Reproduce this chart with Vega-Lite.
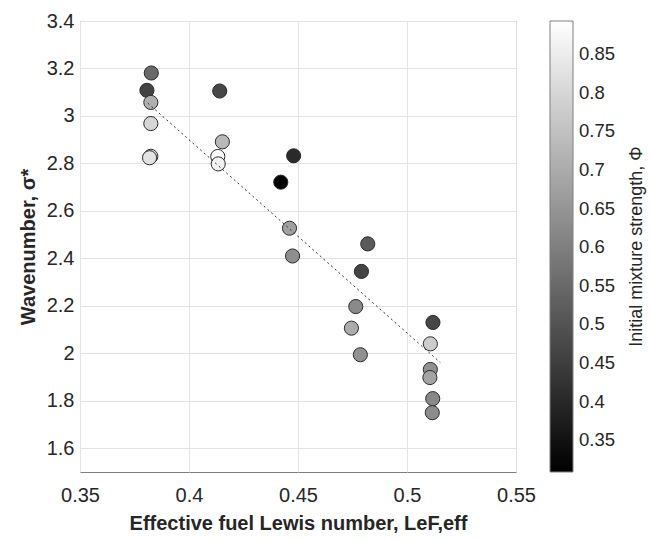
{
  "$schema": "https://vega.github.io/schema/vega-lite/v6.json",
  "autosize": {"type": "none"},
  "padding": {"left": 80, "top": 21, "right": 135, "bottom": 68},
  "width": 436,
  "height": 451,
  "background": "white",
  "config": {
    "font": "Liberation Sans",
    "view": {"stroke": "#7f7f7f", "strokeWidth": 1},
    "axis": {
      "domain": false,
      "ticks": false,
      "gridColor": "#e3e3e3",
      "gridWidth": 1,
      "labelFontSize": 20,
      "labelColor": "#262626",
      "labelFlush": false,
      "labelOverlap": false,
      "titleFontSize": 20,
      "titleFontWeight": "bold",
      "titleColor": "#262626"
    }
  },
  "title": {
    "text": "Initial mixture strength, Φ",
    "orient": "right",
    "angle": -90,
    "anchor": "middle",
    "frame": "group",
    "fontSize": 18,
    "fontWeight": "normal",
    "color": "#262626",
    "offset": -6
  },
  "datasets": {
    "pts": [
      {"le": 0.3827, "sigma": 3.181, "phi": 0.55},
      {"le": 0.3807, "sigma": 3.108, "phi": 0.46},
      {"le": 0.3825, "sigma": 3.057, "phi": 0.71},
      {"le": 0.3825, "sigma": 2.968, "phi": 0.80},
      {"le": 0.3825, "sigma": 2.830, "phi": 0.815},
      {"le": 0.3819, "sigma": 2.824, "phi": 0.83},
      {"le": 0.4141, "sigma": 3.105, "phi": 0.47},
      {"le": 0.4153, "sigma": 2.891, "phi": 0.73},
      {"le": 0.4132, "sigma": 2.829, "phi": 0.89},
      {"le": 0.4134, "sigma": 2.798, "phi": 0.86},
      {"le": 0.4480, "sigma": 2.832, "phi": 0.405},
      {"le": 0.4421, "sigma": 2.721, "phi": 0.31},
      {"le": 0.4461, "sigma": 2.527, "phi": 0.675},
      {"le": 0.4475, "sigma": 2.410, "phi": 0.635},
      {"le": 0.4820, "sigma": 2.461, "phi": 0.515},
      {"le": 0.4791, "sigma": 2.345, "phi": 0.465},
      {"le": 0.4765, "sigma": 2.197, "phi": 0.625},
      {"le": 0.4745, "sigma": 2.106, "phi": 0.70},
      {"le": 0.4786, "sigma": 1.994, "phi": 0.64},
      {"le": 0.5119, "sigma": 2.130, "phi": 0.47},
      {"le": 0.5107, "sigma": 2.040, "phi": 0.776},
      {"le": 0.5107, "sigma": 1.932, "phi": 0.64},
      {"le": 0.5105, "sigma": 1.898, "phi": 0.685},
      {"le": 0.5118, "sigma": 1.809, "phi": 0.62},
      {"le": 0.5116, "sigma": 1.750, "phi": 0.63}
    ],
    "fit": [
      {"le": 0.3811, "sigma": 3.054},
      {"le": 0.5153, "sigma": 1.961}
    ]
  },
  "layer": [
    {
      "data": {"name": "pts"},
      "mark": {"type": "circle", "size": 200, "opacity": 1, "stroke": "#2b2b2b", "strokeWidth": 1},
      "encoding": {
        "x": {
          "field": "le", "type": "quantitative",
          "scale": {"domain": [0.35, 0.55], "nice": false, "zero": false},
          "axis": {"values": [0.35, 0.4, 0.45, 0.5, 0.55], "format": ".2~f", "labelPadding": 13, "title": "Effective fuel Lewis number, LeF,eff", "titlePadding": 8}
        },
        "y": {
          "field": "sigma", "type": "quantitative",
          "scale": {"domain": [1.5, 3.4], "nice": false, "zero": false},
          "axis": {"values": [1.6, 1.8, 2, 2.2, 2.4, 2.6, 2.8, 3, 3.2, 3.4], "format": ".1~f", "labelPadding": 6, "title": "Wavenumber, σ*", "titlePadding": 8}
        },
        "color": {
          "field": "phi", "type": "quantitative",
          "scale": {"domain": [0.309, 0.893], "range": ["#000000", "#ffffff"], "interpolate": "rgb"},
          "legend": {
            "orient": "right",
            "offset": 34,
            "title": null,
            "padding": 0,
            "gradientLength": 451,
            "gradientThickness": 23,
            "gradientStrokeColor": "#7f7f7f",
            "gradientStrokeWidth": 1,
            "values": [0.35, 0.4, 0.45, 0.5, 0.55, 0.6, 0.65, 0.7, 0.75, 0.8, 0.85],
            "format": ".2~f",
            "labelFontSize": 18.5,
            "labelColor": "#262626",
            "labelOffset": 6,
            "labelOverlap": false
          }
        }
      }
    },
    {
      "data": {"name": "fit"},
      "mark": {"type": "line", "color": "#333333", "strokeWidth": 1, "strokeDash": [2, 3]},
      "encoding": {
        "x": {"field": "le", "type": "quantitative"},
        "y": {"field": "sigma", "type": "quantitative"}
      }
    }
  ]
}
